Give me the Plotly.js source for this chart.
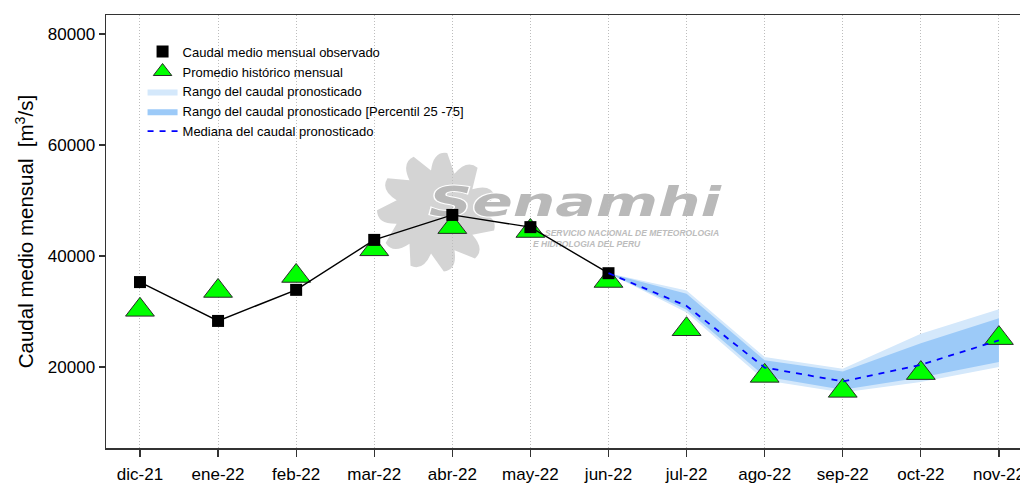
<!DOCTYPE html>
<html>
<head>
<meta charset="utf-8">
<script src="https://cdn.plot.ly/plotly-3.0.1.min.js"></script>
<style>html,body{margin:0;padding:0;background:#fff;} #chart{width:1020px;height:486px;}</style>
</head>
<body>
<div id="chart"></div>
<script>
// ---- data ----
const months = ['dic-21','ene-22','feb-22','mar-22','abr-22','may-22','jun-22','jul-22','ago-22','sep-22','oct-22','nov-22'];
const obsMonths = ['dic-21','ene-22','feb-22','mar-22','abr-22','may-22','jun-22'];
const observado = [35300, 28300, 33900, 42900, 47400, 45200, 36900];
const historico = [30300, 33700, 36400, 41200, 45200, 44500, 35500, 26800, 18400, 15700, 18900, 25200];
const fcMonths = ['jun-22','jul-22','ago-22','sep-22','oct-22','nov-22'];
const mediana = [36900, 31000, 19900, 17400, 20400, 24800];
const p75 = [36900, 33200, 21200, 19200, 24300, 28800];
const p25 = [36900, 30300, 18300, 15900, 18100, 20900];
const rMax = [36900, 33800, 21800, 19700, 26000, 30400];
const rMin = [36900, 29800, 17600, 15400, 17300, 20000];
const yTicks = [20000, 40000, 60000, 80000];

const idx = m => months.indexOf(m);
const fcX = fcMonths.map(idx);
function band(upper, lower) {
  return {
    x: fcX.concat(fcX.slice().reverse()),
    y: upper.concat(lower.slice().reverse())
  };
}
const bMax = band(rMax, rMin);
const bIqr = band(p75, p25);

const FONT = 'Liberation Sans, Arial, sans-serif';

const traces = [
  {x: bMax.x, y: bMax.y, type: 'scatter', mode: 'lines', fill: 'toself',
   fillcolor: '#d4e8fb', line: {width: 0, color: '#d4e8fb'},
   name: 'Rango del caudal pronosticado', legendrank: 3, hoverinfo: 'skip'},
  {x: bIqr.x, y: bIqr.y, type: 'scatter', mode: 'lines', fill: 'toself',
   fillcolor: '#9ccaf8', line: {width: 0, color: '#9ccaf8'},
   name: 'Rango del caudal pronosticado [Percentil 25 -75]', legendrank: 4, hoverinfo: 'skip'},
  {x: months.map(idx), y: historico, type: 'scatter', mode: 'markers',
   marker: {symbol: 'triangle-up', size: 25, color: '#00ff00', line: {color: '#2a2a2a', width: 1}},
   name: 'Promedio histórico mensual', legendrank: 2},
  {x: obsMonths.map(idx), y: observado, type: 'scatter', mode: 'lines',
   line: {color: '#000000', width: 1.4}, showlegend: false, hoverinfo: 'skip'},
  {x: obsMonths.map(idx), y: observado, type: 'scatter', mode: 'markers',
   marker: {symbol: 'square', size: 12, color: '#000000'},
   name: 'Caudal medio mensual observado', legendrank: 1},
  {x: fcX, y: mediana, type: 'scatter', mode: 'lines',
   line: {color: '#0000ff', width: 1.8, dash: '6px,6px'},
   name: 'Mediana del caudal pronosticado', legendrank: 5}
];

// plot geometry helpers for the decorative watermark (paper coords)
const L = 106, T = 15, W = 914, H = 433;
const px = x => (x - L) / W;
const py = y => (T + H - y) / H;

// sun logo path (decoration): rounded swirling petals
function sunPath(cx, cy, rIn, rOut, n) {
  let d = '';
  const P = (r, a) => px(cx + r * Math.cos(a)) + ',' + py(cy + r * Math.sin(a));
  for (let i = 0; i < n; i++) {
    const step = 2 * Math.PI / n;
    const a0 = i * step;
    if (i === 0) d += 'M' + P(rIn, a0);
    d += ' Q' + P(rOut * 1.02, a0 + step * 0.15) + ' ' + P(rOut, a0 + step * 0.55);
    d += ' L' + P(rIn, a0 + step);
  }
  return d + ' Z';
}

const layout = {
  width: 1020, height: 486,
  margin: {l: L, r: 0, t: T, b: 486 - T - H},
  paper_bgcolor: '#ffffff', plot_bgcolor: '#ffffff',
  font: {family: FONT, color: '#000000'},
  showlegend: true,
  legend: {x: 0.040, y: 0.95, xanchor: 'left', yanchor: 'top',
           bgcolor: 'rgba(0,0,0,0)', font: {family: FONT, size: 13, color: '#000'},
           tracegroupgap: 0, itemwidth: 30},
  xaxis: {
    type: 'linear', range: [-0.435, 11.27],
    tickvals: months.map(idx), ticktext: months,
    ticklabeloverflow: 'allow',
    showgrid: true, gridcolor: '#bdbdbd', griddash: '1px,2px', gridwidth: 1,
    showline: true, linecolor: '#333333', linewidth: 1.5, mirror: true,
    ticks: 'outside', ticklen: 7, tickcolor: '#333333', tickwidth: 1.2,
    ticklabelstandoff: 3,
    tickfont: {family: FONT, size: 17, color: '#000'},
    zeroline: false
  },
  yaxis: {
    range: [5405, 83423],
    tickvals: yTicks, tickformat: 'd',
    showgrid: false, zeroline: false,
    showline: true, linecolor: '#333333', linewidth: 1.5,
    ticks: 'outside', ticklen: 6, tickcolor: '#333333', tickwidth: 1.2,
    tickfont: {family: FONT, size: 17, color: '#000'},
    title: {text: 'Caudal medio mensual  [m<sup>3</sup>/s]', font: {family: FONT, size: 20.5, color: '#000'}, standoff: 8}
  },
  shapes: [
    {type: 'path', xref: 'paper', yref: 'paper', layer: 'below',
     path: sunPath(437, 212, 42, 60, 11), fillcolor: '#d4d4d4', line: {width: 0}}
  ],
  annotations: [
    {xref: 'paper', yref: 'paper', x: px(575), y: py(202), xanchor: 'center', yanchor: 'middle',
     text: '<b><i>Senamhi</i></b>', showarrow: false,
     font: {family: 'DejaVu Sans, Liberation Sans', size: 41, color: '#b9b9b9'}},
    {xref: 'paper', yref: 'paper', x: px(721), y: py(233), xanchor: 'right', yanchor: 'middle',
     text: '<b><i>SERVICIO NACIONAL DE METEOROLOGIA</i></b>', showarrow: false,
     font: {family: FONT, size: 8.5, color: '#bcbcbc'}},
    {xref: 'paper', yref: 'paper', x: px(643), y: py(244), xanchor: 'right', yanchor: 'middle',
     text: '<b><i>E HIDROLOGIA DEL PERU</i></b>', showarrow: false,
     font: {family: FONT, size: 8.5, color: '#bcbcbc'}}
  ]
};

Plotly.newPlot('chart', traces, layout, {displayModeBar: false, staticPlot: true}).then(gd => {
  // push watermark text beneath the data marks and stretch the logo word
  const below = gd.querySelector('.main-svg .layer-below');
  const anns = gd.querySelectorAll('.annotation');
  anns.forEach((a, i) => {
    if (i === 0) {
      const t = a.querySelector('text');
      if (t) {
        t.setAttribute('textLength', '292');
        t.setAttribute('lengthAdjust', 'spacingAndGlyphs');
        t.style.stroke = '#ffffff';
        t.style.strokeWidth = '2px';
        t.style.paintOrder = 'stroke';
      }
    }
    if (below) below.appendChild(a);
  });
});
</script>
</body>
</html>
